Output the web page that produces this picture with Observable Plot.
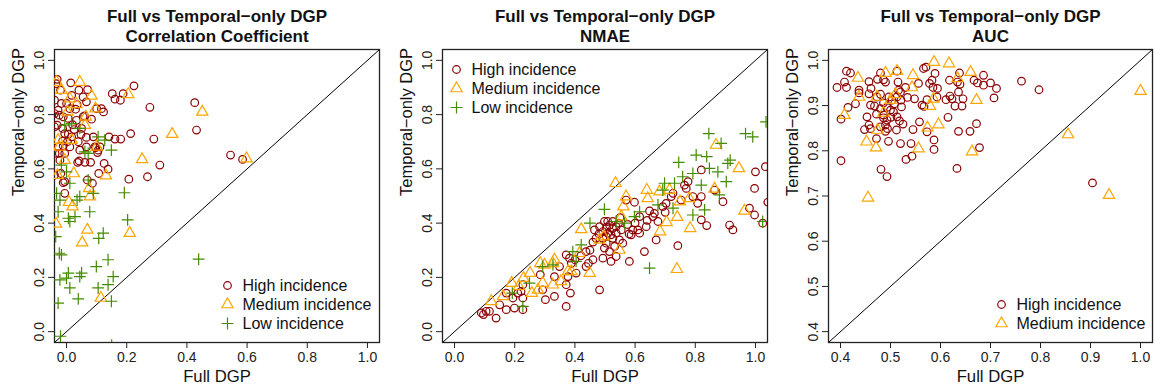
<!DOCTYPE html>
<html><head><meta charset="utf-8">
<script src="https://cdn.jsdelivr.net/npm/d3@7"></script>
<script src="https://cdn.jsdelivr.net/npm/@observablehq/plot@0.6"></script>
<style>
body{margin:0;background:#fff;font-family:"Liberation Sans",Arial,sans-serif;}
#wrap{position:relative;width:1155px;height:387px;overflow:hidden;background:#fff;}
#wrap svg{position:absolute;top:0;}
</style></head><body><div id="wrap"></div>
<script>
// ---------- labels ----------
const titleLine1 = "Full vs Temporal\u2212only DGP";
const panelTitles = ["Correlation Coefficient", "NMAE", "AUC"];
const xLabel = "Full DGP";
const yLabel = "Temporal\u2212only DGP";
const groups = ["High incidence", "Medium incidence", "Low incidence"];
const groupColors = ["#8B0000", "#FFA500", "#458B00"];
const groupSymbols = ["circle", "triangle", "plus"];

// ---------- ticks ----------
const ticksUnit = [0, 0.2, 0.4, 0.6, 0.8, 1.0];
const ticksAUC = [0.4, 0.5, 0.6, 0.7, 0.8, 0.9, 1.0];

// ---------- Correlation coefficient [full, temporal] ----------
const corrHigh = [[0.224,0.906],[0.152,0.877],[0.161,0.857],[0.179,0.853],[0.188,0.877],[0.277,0.827],[0.426,0.844],[0.432,0.743],[0.290,0.710],[0.310,0.614],[0.269,0.571],[0.207,0.562],[0.213,0.730],[0.180,0.710],[0.161,0.710],[0.141,0.718],[0.545,0.651],[0.585,0.635],[0.138,0.599],[0.125,0.620],[0.123,0.810],[0.116,0.822],[0.100,0.822],[0.080,0.624],[0.103,0.660],[0.097,0.678],[0.042,0.629],[0.037,0.624],[0.061,0.624],[0.069,0.559],[0.086,0.547],[0.107,0.583],[-0.006,0.510],[-0.006,0.553],[0.070,0.892],[0.014,0.917],[-0.020,0.890],[-0.031,0.930],[-0.035,0.914],[0.041,0.890],[0.055,0.865],[0.017,0.871],[0.000,0.841],[-0.017,0.841],[-0.028,0.816],[0.011,0.822],[0.035,0.837],[0.066,0.847],[0.083,0.783],[0.055,0.792],[0.033,0.779],[0.006,0.786],[-0.011,0.792],[-0.024,0.798],[-0.031,0.761],[-0.013,0.749],[0.020,0.763],[0.050,0.749],[-0.006,0.730],[0.006,0.728],[0.017,0.718],[0.048,0.727],[0.066,0.716],[0.089,0.718],[-0.013,0.702],[0.003,0.700],[0.011,0.681],[-0.011,0.685],[-0.028,0.681],[-0.024,0.657],[-0.006,0.657],[-0.022,0.632],[0.039,0.700],[0.044,0.669],[0.066,0.681],[0.094,0.681],[0.105,0.669],[0.111,0.681],[-0.040,0.853],[-0.040,0.804],[-0.040,0.755],[-0.038,0.657],[-0.040,0.577],[-0.019,0.583],[-0.011,0.549],[0.030,0.820],[0.060,0.795],[0.025,0.745]];
const corrMed = [[0.044,0.920],[0.083,0.869],[0.205,0.875],[0.451,0.810],[0.351,0.728],[0.251,0.635],[0.598,0.638],[0.131,0.575],[0.075,0.528],[0.078,0.498],[0.008,0.477],[0.020,0.461],[0.069,0.375],[0.210,0.363],[0.052,0.328],[0.114,0.124],[-0.035,0.397],[0.024,0.583],[-0.006,0.632],[-0.030,0.577],[0.096,0.822],[0.064,0.792],[0.033,0.838],[0.011,0.859],[-0.024,0.681],[-0.033,0.920],[0.017,0.706],[0.003,0.810],[0.061,0.761],[0.100,0.681],[-0.017,0.890],[-0.028,0.706]];
const corrLow = [[0.439,0.267],[0.192,0.512],[0.203,0.412],[0.077,0.442],[0.122,0.363],[0.107,0.344],[0.138,0.265],[0.099,0.240],[0.155,0.203],[0.138,0.173],[0.105,0.161],[0.149,0.112],[0.039,0.121],[0.011,0.161],[0.006,0.216],[0.000,0.197],[0.050,0.216],[0.044,0.203],[-0.022,0.191],[-0.024,0.289],[-0.017,0.283],[-0.028,0.105],[-0.020,-0.017],[-0.028,0.442],[0.006,0.418],[0.011,0.406],[0.028,0.424],[0.035,0.485],[0.044,0.498],[0.011,0.547],[0.000,0.589],[-0.017,0.614],[-0.022,0.485],[0.061,0.663],[0.072,0.559],[0.089,0.510],[0.105,0.718],[0.127,0.706],[0.149,0.669],[0.017,0.767],[-0.006,0.761],[-0.033,0.510],[0.072,0.657],[0.044,0.749],[-0.036,0.350],[0.150,-0.050]];

// ---------- NMAE [full, temporal] ----------
const nmaeHigh = [[0.089,0.069],[0.096,0.063],[0.105,0.075],[0.116,0.075],[0.138,0.050],[0.150,0.099],[0.172,0.081],[0.199,0.087],[0.194,0.124],[0.227,0.081],[0.227,0.124],[0.221,0.148],[0.227,0.173],[0.172,0.142],[0.210,0.142],[0.302,0.118],[0.293,0.154],[0.285,0.210],[0.332,0.130],[0.332,0.203],[0.371,0.093],[0.385,0.142],[0.371,0.173],[0.377,0.203],[0.371,0.283],[0.382,0.271],[0.388,0.252],[0.349,0.240],[0.404,0.216],[0.437,0.240],[0.445,0.252],[0.437,0.295],[0.460,0.265],[0.482,0.154],[0.493,0.271],[0.504,0.326],[0.470,0.344],[0.465,0.375],[0.482,0.387],[0.498,0.406],[0.509,0.406],[0.515,0.393],[0.526,0.406],[0.537,0.387],[0.493,0.369],[0.509,0.363],[0.520,0.357],[0.537,0.363],[0.526,0.344],[0.504,0.350],[0.532,0.314],[0.515,0.295],[0.537,0.277],[0.520,0.259],[0.498,0.308],[0.493,0.344],[0.548,0.338],[0.554,0.375],[0.559,0.326],[0.570,0.485],[0.598,0.477],[0.581,0.259],[0.587,0.357],[0.592,0.375],[0.609,0.375],[0.615,0.363],[0.631,0.295],[0.648,0.445],[0.637,0.387],[0.659,0.424],[0.664,0.436],[0.670,0.338],[0.676,0.406],[0.692,0.461],[0.703,0.473],[0.720,0.498],[0.726,0.510],[0.742,0.317],[0.753,0.485],[0.764,0.540],[0.770,0.528],[0.776,0.553],[0.792,0.498],[0.808,0.473],[0.820,0.596],[0.820,0.498],[0.820,0.412],[0.838,0.391],[0.864,0.522],[0.892,0.479],[0.914,0.393],[0.925,0.375],[0.980,0.455],[0.997,0.430],[0.997,0.528],[1.000,0.589],[1.033,0.608],[1.041,0.477],[1.024,0.400],[0.615,0.424],[0.600,0.400],[0.575,0.395],[0.545,0.400],[0.525,0.380],[0.505,0.385],[0.480,0.360],[0.460,0.330],[0.450,0.300],[0.420,0.280],[0.400,0.265],[0.550,0.420],[0.640,0.410],[0.700,0.440],[0.580,0.360]];
const nmaeMed = [[0.535,0.547],[0.869,0.688],[0.945,0.602],[0.963,0.445],[0.739,0.230],[0.783,0.381],[0.740,0.422],[0.705,0.403],[0.683,0.369],[0.639,0.522],[0.642,0.491],[0.714,0.522],[0.749,0.479],[0.780,0.491],[0.864,0.526],[0.561,0.461],[0.554,0.424],[0.548,0.301],[0.496,0.350],[0.421,0.377],[0.449,0.216],[0.377,0.222],[0.327,0.252],[0.332,0.265],[0.285,0.252],[0.299,0.246],[0.251,0.216],[0.229,0.197],[0.257,0.142],[0.190,0.179],[0.161,0.130],[0.122,0.112],[0.293,0.179],[0.327,0.173],[0.354,0.185],[0.388,0.222],[0.415,0.289],[0.482,0.338],[0.570,0.498],[0.681,0.516],[0.214,0.167],[0.277,0.154]];
const nmaeLow = [[0.845,0.730],[0.967,0.730],[0.991,0.718],[1.035,0.773],[0.886,0.694],[0.803,0.651],[0.838,0.645],[0.745,0.624],[0.847,0.602],[0.875,0.589],[0.908,0.620],[0.916,0.632],[0.903,0.553],[0.820,0.540],[0.792,0.583],[0.758,0.571],[0.698,0.547],[0.731,0.547],[0.692,0.522],[0.831,0.449],[0.792,0.430],[0.726,0.455],[0.676,0.467],[0.598,0.424],[0.615,0.442],[0.648,0.234],[0.498,0.451],[0.450,0.400],[0.421,0.320],[0.404,0.259],[0.327,0.246],[0.293,0.240],[0.227,0.093],[0.192,0.142],[0.249,0.179],[1.024,0.406],[0.880,0.504],[0.537,0.406],[0.393,0.295],[0.565,0.400]];

// ---------- AUC [full, temporal] ----------
const aucHigh = [[0.393,0.940],[0.408,0.952],[0.412,0.976],[0.420,0.972],[0.412,0.940],[0.401,0.870],[0.401,0.778],[0.415,0.896],[0.430,0.904],[0.437,0.934],[0.437,0.928],[0.457,0.953],[0.461,0.938],[0.457,0.926],[0.460,0.901],[0.453,0.875],[0.448,0.847],[0.457,0.857],[0.460,0.849],[0.472,0.827],[0.481,0.759],[0.493,0.743],[0.496,0.821],[0.490,0.843],[0.494,0.849],[0.490,0.857],[0.480,0.853],[0.480,0.972],[0.474,0.958],[0.486,0.957],[0.490,0.952],[0.480,0.925],[0.473,0.919],[0.468,0.899],[0.480,0.893],[0.486,0.879],[0.493,0.868],[0.500,0.890],[0.508,0.904],[0.513,0.919],[0.515,0.952],[0.513,0.976],[0.516,0.934],[0.520,0.930],[0.521,0.912],[0.522,0.897],[0.513,0.875],[0.518,0.866],[0.512,0.846],[0.520,0.816],[0.525,0.859],[0.530,0.940],[0.534,0.918],[0.545,0.847],[0.541,0.816],[0.531,0.781],[0.543,0.788],[0.548,0.915],[0.556,0.949],[0.558,0.864],[0.563,0.901],[0.567,0.898],[0.566,0.982],[0.571,0.985],[0.573,0.913],[0.573,0.842],[0.578,0.949],[0.583,0.956],[0.585,0.940],[0.589,0.971],[0.587,0.824],[0.587,0.803],[0.594,0.938],[0.593,0.919],[0.611,0.913],[0.615,0.874],[0.618,0.956],[0.619,0.921],[0.623,0.915],[0.629,0.899],[0.633,0.761],[0.636,0.843],[0.634,0.952],[0.638,0.972],[0.639,0.947],[0.636,0.930],[0.643,0.899],[0.645,0.915],[0.659,0.843],[0.667,0.956],[0.672,0.860],[0.678,0.807],[0.674,0.950],[0.686,0.967],[0.686,0.945],[0.700,0.950],[0.707,0.917],[0.712,0.938],[0.762,0.954],[0.797,0.935],[0.904,0.729],[0.497,0.919],[0.503,0.912],[0.506,0.886],[0.486,0.906],[0.493,0.896],[0.501,0.874],[0.486,0.873],[0.472,0.881]];
const aucMed = [[0.587,0.996],[0.617,0.993],[0.660,0.974],[0.435,0.961],[0.490,0.972],[0.513,0.976],[0.545,0.967],[0.634,0.960],[0.437,0.919],[0.408,0.879],[0.672,0.912],[1.000,0.932],[0.855,0.836],[0.937,0.702],[0.455,0.696],[0.471,0.807],[0.452,0.820],[0.556,0.805],[0.663,0.798],[0.596,0.858],[0.574,0.851],[0.474,0.846],[0.486,0.884],[0.579,0.899],[0.586,0.915],[0.510,0.925],[0.500,0.912],[0.543,0.940],[0.473,0.919]];

const wrap = document.getElementById("wrap");

function panel({title2, domain, ticks, series, legend, legendAnchor, legendDx, legendDy0, left, width, marginRight}) {
  const fmt = d3.format(".1f");
  const diag = domain.map(v => ({x: v, y: v}));
  const marks = [
    Plot.frame({stroke: "#222", strokeWidth: 1.3}),
    Plot.axisX(ticks, {tickSize: 6, tickFormat: () => "", label: null, stroke: "#222"}),
    Plot.axisY(ticks, {tickSize: 6, tickFormat: () => "", label: null, stroke: "#222"}),
    Plot.text(ticks, {x: d => d, frameAnchor: "bottom", dy: 15, text: d => fmt(d), fontSize: 14, lineAnchor: "middle", textAnchor: "middle", fill: "#222"}),
    Plot.text(ticks, {y: d => d, frameAnchor: "left", dx: -15, text: d => fmt(d), fontSize: 14, rotate: -90, lineAnchor: "middle", textAnchor: "middle", fill: "#222"}),
    Plot.line(diag, {x: "x", y: "y", stroke: "black", strokeWidth: 1, clip: true}),
  ];
  const radii = [3.8, 4.2, 3.9];
  series.forEach((pts, i) => {
    marks.push(Plot.dot(pts, {x: d => d[0], y: d => d[1], symbol: groupSymbols[i], stroke: groupColors[i], fill: "none", r: radii[i], strokeWidth: 1.2, clip: true}));
  });
  legend.forEach((gi, j) => {
    const dy = legendDy0 + j * 19;
    marks.push(Plot.dot([groups[gi]], {frameAnchor: legendAnchor, dx: legendDx, dy, symbol: groupSymbols[gi], stroke: groupColors[gi], fill: "none", r: radii[gi], strokeWidth: 1.2}));
    marks.push(Plot.text([groups[gi]], {frameAnchor: legendAnchor, dx: legendDx + 15, dy, text: d => d, textAnchor: "start", lineAnchor: "middle", fontSize: 16, fill: "#111"}));
  });
  marks.push(Plot.text([titleLine1], {frameAnchor: "top", dy: -33, text: d => d, fontSize: 17, fontWeight: "bold", lineAnchor: "middle", fill: "#111"}));
  marks.push(Plot.text([title2], {frameAnchor: "top", dy: -13, text: d => d, fontSize: 17, fontWeight: "bold", lineAnchor: "middle", fill: "#111"}));
  marks.push(Plot.text([xLabel], {frameAnchor: "bottom", dy: 34, text: d => d, fontSize: 16.7, lineAnchor: "middle", fill: "#111"}));
  marks.push(Plot.text([yLabel], {frameAnchor: "left", dx: -36, text: d => d, fontSize: 16.5, rotate: -90, lineAnchor: "middle", fill: "#111"}));

  const svg = Plot.plot({
    width, height: 387,
    marginLeft: 54, marginRight, marginTop: 49, marginBottom: 45,
    x: {domain, label: null},
    y: {domain, label: null},
    style: {fontFamily: "'Liberation Sans', Arial, sans-serif", fontSize: "14px", background: "white", overflow: "visible"},
    marks
  });
  svg.style.left = left + "px";
  wrap.appendChild(svg);
}

panel({title2: panelTitles[0], domain: [-0.04, 1.04], ticks: ticksUnit,
  series: [corrHigh, corrMed, corrLow], legend: [0, 1, 2],
  legendAnchor: "bottom-right", legendDx: -152, legendDy0: -57,
  left: 0, width: 385, marginRight: 6});
panel({title2: panelTitles[1], domain: [-0.04, 1.04], ticks: ticksUnit,
  series: [nmaeHigh, nmaeMed, nmaeLow], legend: [0, 1, 2],
  legendAnchor: "top-left", legendDx: 14, legendDy0: 20,
  left: 388, width: 385, marginRight: 6});
panel({title2: panelTitles[2], domain: [0.376, 1.024], ticks: ticksAUC,
  series: [aucHigh, aucMed], legend: [0, 1],
  legendAnchor: "bottom-right", legendDx: -151, legendDy0: -38,
  left: 774, width: 381, marginRight: 3});
</script>
</body></html>
